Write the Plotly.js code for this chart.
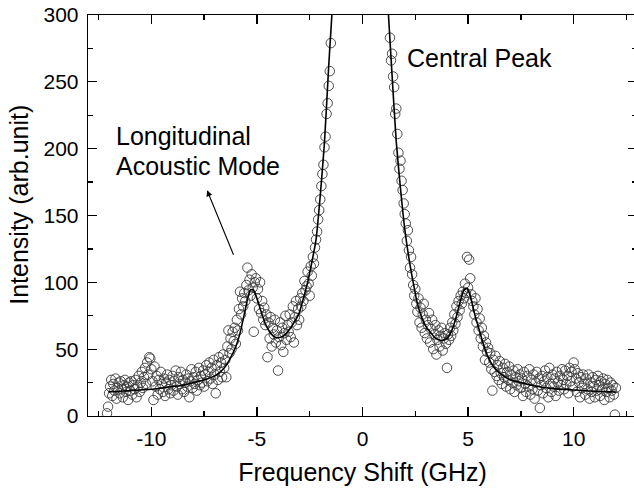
<!DOCTYPE html>
<html>
<head>
<meta charset="utf-8">
<script src="https://cdn.plot.ly/plotly-3.0.1.min.js"></script>
<style>
html,body{margin:0;padding:0;overflow:hidden;background:#fff;}
#chart{width:640px;height:495px;}
</style>
</head>
<body>
<div id="chart"></div>
<script>
// Measured spectrum, anti-Stokes side (negative shift)
const dataLeftX = [-12.10,-12.05,-12.00,-11.95,-11.90,-11.85,-11.80,-11.75,-11.70,-11.65,-11.60,-11.55,-11.50,-11.45,-11.40,-11.35,-11.30,-11.25,-11.20,-11.15,-11.10,-11.05,-11.00,-10.95,-10.90,-10.85,-10.80,
-10.75,-10.70,-10.65,-10.60,-10.55,-10.50,-10.45,-10.40,-10.35,-10.30,-10.25,-10.20,-10.15,-10.10,-10.05,-10.00,-9.95,-9.90,-9.85,-9.80,-9.75,-9.70,-9.65,-9.60,-9.55,-9.50,
-9.45,-9.40,-9.35,-9.30,-9.25,-9.20,-9.15,-9.10,-9.05,-9.00,-8.95,-8.90,-8.85,-8.80,-8.75,-8.70,-8.65,-8.60,-8.55,-8.50,-8.45,-8.40,-8.35,-8.30,-8.25,-8.20,-8.15,-8.10,-8.05,-8.00,-7.95,-7.90,-7.85,-7.80,-7.75,-7.70,-7.65,-7.60,-7.55,
-7.50,-7.45,-7.40,-7.35,-7.30,-7.25,-7.20,-7.15,-7.10,-7.05,-7.00,-6.95,-6.90,-6.85,-6.80,-6.75,-6.70,-6.65,-6.60,-6.55,
-6.50,-6.45,-6.40,-6.35,-6.30,-6.25,-6.20,-6.15,-6.10,-6.05,-6.00,-5.95,-5.90,-5.85,-5.80,-5.75,-5.70,-5.65,-5.60,-5.55,
-5.50,-5.45,-5.40,-5.35,-5.30,-5.25,-5.20,-5.15,-5.10,-5.05,-5.00,-4.95,-4.90,-4.85,-4.80,-4.75,-4.70,-4.65,-4.60,-4.55,
-4.50,-4.45,-4.40,-4.35,-4.30,-4.25,-4.20,-4.15,-4.10,-4.05,-4.00,-3.95,-3.90,-3.85,-3.80,-3.75,-3.70,-3.65,-3.60,-3.55,
-3.50,-3.45,-3.40,-3.35,-3.30,-3.25,-3.20,-3.15,-3.10,-3.05,-3.00,-2.95,
-2.90,-2.85,-2.80,-2.75,-2.70,-2.65,-2.60,-2.55,-2.50,-2.45,-2.40,-2.35,-2.30,-2.25,-2.20,-2.15,-2.10,-2.05,-2.00,-1.95,-1.90,-1.85,-1.80,-1.75,-1.70,-1.65,-1.60,-1.55,-1.50];
const dataLeftY = [2,7,17,22,27,15,24,19,28,13,21,25,17,26,20,14,23,27,18,22,12,25,19,26,16,23,20,
27,14,22,30,18,25,33,21,29,36,24,40,31,44,43,35,26,12,37,22,30,16,27,20,33,24,
18,28,15,25,31,20,27,17,23,30,19,26,34,22,16,29,24,33,20,27,18,25,31,22,28,14,26,35,21,29,24,33,19,27,36,23,30,25,34,
22,31,38,26,33,40,28,36,24,42,31,17,38,27,44,33,40,29,46,36,
42,29,52,64,47,58,50,63,56,66,54,72,64,80,93,76,88,82,92,86,
98,111,94,102,90,106,96,63,100,103,88,95,80,100,77,86,72,81,68,76,
44,70,58,74,52,66,61,72,55,64,34,59,70,53,66,48,62,75,57,68,
63,76,59,70,82,55,74,86,68,80,72,88,
82,92,86,101,94,97,108,99,90,112,105,119,114,126,132,138,147,154,162,172,181,188,201,209,226,234,247,258,279];

// Measured spectrum, Stokes side (positive shift)
const dataRightX = [1.30,1.35,1.40,1.45,1.50,1.55,1.60,1.65,1.70,1.75,1.80,1.85,1.90,1.95,2.00,2.05,2.10,2.15,2.20,2.25,2.30,2.35,2.40,2.45,2.50,2.55,
2.60,2.65,2.70,2.75,2.80,2.85,2.90,2.95,3.00,3.05,3.10,3.15,3.20,3.25,3.30,3.35,3.40,3.45,3.50,3.55,3.60,3.65,3.70,3.75,3.80,3.85,
3.90,3.95,4.00,4.05,4.10,4.15,4.20,4.25,4.30,4.35,4.40,4.45,4.50,4.55,4.60,4.65,4.70,4.75,4.80,4.85,4.90,4.95,
5.00,5.05,5.10,5.15,5.20,5.25,5.30,5.35,5.40,5.45,5.50,5.55,5.60,5.65,5.70,5.75,5.80,5.85,5.90,5.95,
6.00,6.05,6.10,6.15,6.20,6.25,6.30,6.35,6.40,6.45,6.50,6.55,6.60,6.65,6.70,6.75,6.80,6.85,6.90,6.95,7.00,7.05,7.10,7.15,7.20,7.25,7.30,7.35,7.40,7.45,
7.50,7.55,7.60,7.65,7.70,7.75,7.80,7.85,7.90,7.95,8.00,8.05,8.10,8.15,8.20,8.25,8.30,8.35,8.40,8.45,8.50,8.55,8.60,8.65,8.70,8.75,8.80,8.85,8.90,8.95,9.00,9.05,9.10,9.15,9.20,9.25,9.30,9.35,9.40,9.45,
9.50,9.55,9.60,9.65,9.70,9.75,9.80,9.85,9.90,9.95,10.00,10.05,10.10,10.15,10.20,10.25,10.30,10.35,10.40,10.45,
10.50,10.55,10.60,10.65,10.70,10.75,10.80,10.85,10.90,10.95,11.00,11.05,11.10,11.15,11.20,11.25,11.30,11.35,11.40,11.45,11.50,11.55,11.60,11.65,11.70,11.75,11.80,11.85,11.90,11.95,12.00];
const dataRightY = [283,266,271,254,246,226,230,211,197,185,191,176,169,159,151,144,131,139,124,111,119,106,98,90,95,84,
78,88,70,81,66,76,84,62,72,58,68,77,55,65,72,50,61,68,46,57,64,52,60,66,49,58,
62,54,36,61,57,66,60,70,64,76,69,82,74,86,79,90,84,93,88,99,92,119,
96,117,103,91,86,82,76,88,70,80,64,73,58,66,52,60,42,55,48,51,
40,47,35,19,42,33,45,30,38,27,41,32,24,36,29,39,22,33,27,37,20,31,25,34,18,29,23,35,26,31,
21,28,15,33,24,18,30,22,35,16,27,20,31,13,25,33,19,28,6,23,30,17,26,34,21,29,14,36,24,18,31,22,28,15,33,25,19,30,23,35,
27,20,34,24,30,17,36,26,33,22,40,35,28,18,32,25,14,29,21,31,
24,16,28,20,31,13,25,18,29,22,14,27,19,30,23,15,26,20,28,12,24,18,27,21,14,25,19,23,16,1,21];

// Lorentzian fit
const fitLeftX = [-12.05,-11.5,-11,-10.5,-10,-9.5,-9,-8.5,-8,-7.5,-7,-6.6,-6.3,-6.0,-5.8,-5.6,-5.45,-5.3,-5.15,-5.0,-4.8,-4.6,-4.4,-4.2,-4.0,-3.8,-3.6,-3.4,-3.2,-3.0,-2.8,-2.6,-2.4,-2.2,-2.0,-1.8,-1.6,-1.45];
const fitLeftY = [18,18.5,19,19.5,20,21,22,23,25,27,30,35,42,52,62,76,87,94.5,94,88,78,69,63,59.5,58.5,59.5,62,66,71,77,88,100,115,132,165,205,262,300];
const fitRightX = [1.23,1.4,1.6,1.8,2.0,2.2,2.4,2.6,2.8,3.0,3.2,3.4,3.6,3.8,4.0,4.2,4.4,4.6,4.8,4.95,5.1,5.3,5.5,5.7,5.9,6.2,6.5,7.0,7.5,8.0,8.5,9.0,9.5,10,10.5,11,11.5,12];
const fitRightY = [300,255,205,170,140,118,100,84,74,67,63,59,57,56.5,58,63,72,84,94,95.5,90,77,66,55,46,37,32,27,25,23,21.5,20.5,20,19.5,19,18.5,18.2,18];

const xTickVals = [-10,-5,0,5,10];
const yTickVals = [0,50,100,150,200,250,300];

const FONT = 'Liberation Sans, Arial, Helvetica, sans-serif';
const markerStyle = {symbol:'circle-open', size:9.5, color:'#3a3a3a', line:{width:0.9}};
const lineStyle = {color:'#000', width:1.6, shape:'spline', smoothing:0.6};

const traces = [
  {x:dataLeftX, y:dataLeftY, mode:'markers', type:'scatter', marker:markerStyle, hoverinfo:'skip'},
  {x:dataRightX, y:dataRightY, mode:'markers', type:'scatter', marker:markerStyle, hoverinfo:'skip'},
  {x:fitLeftX, y:fitLeftY, mode:'lines', type:'scatter', line:lineStyle, hoverinfo:'skip'},
  {x:fitRightX, y:fitRightY, mode:'lines', type:'scatter', line:lineStyle, hoverinfo:'skip'}
];

const axisCommon = {
  showline:true, linecolor:'#000', linewidth:1.3, mirror:'ticks',
  ticks:'inside', ticklen:9, tickwidth:1.3, tickcolor:'#000',
  showgrid:false, zeroline:false,
  tickfont:{family:FONT, size:21, color:'#000'}
};

const layout = {
  width:640, height:495,
  margin:{l:88, r:3, t:15, b:79},
  paper_bgcolor:'#fff', plot_bgcolor:'#fff',
  showlegend:false,
  font:{family:FONT, color:'#000'},
  xaxis:Object.assign({}, axisCommon, {
    range:[-13,13], tickvals:xTickVals, ticktext:xTickVals.map(String),
    minor:{dtick:2.5, tick0:0, ticks:'inside', ticklen:5, tickwidth:1.3, tickcolor:'#000', showgrid:false},
    ticklabelstandoff:3,
    title:{text:'Frequency Shift (GHz)', font:{family:FONT, size:25, color:'#000'}, standoff:15}
  }),
  yaxis:Object.assign({}, axisCommon, {
    range:[0,300], tickvals:yTickVals, ticktext:yTickVals.map(String),
    minor:{dtick:25, tick0:0, ticks:'inside', ticklen:5, tickwidth:1.3, tickcolor:'#000', showgrid:false},
    ticklabelstandoff:4
  }),
  annotations:[
    {xref:'paper', yref:'paper', x:-0.1248, y:0.528, text:'Intensity (arb.unit)', textangle:-90,
     showarrow:false, xanchor:'center', yanchor:'middle', font:{family:FONT, size:25, color:'#000'}},
    {xref:'x', yref:'y', x:2.0, y:268, text:'Central Peak', showarrow:false, xanchor:'left', yanchor:'middle',
     font:{family:FONT, size:25, color:'#000'}},
    {xref:'x', yref:'y', x:-11.78, y:209.5, text:'Longitudinal', showarrow:false, xanchor:'left', yanchor:'middle',
     font:{family:FONT, size:25, color:'#000'}},
    {xref:'x', yref:'y', x:-11.78, y:187, text:'Acoustic Mode', showarrow:false, xanchor:'left', yanchor:'middle',
     font:{family:FONT, size:25, color:'#000'}},
    {xref:'x', yref:'y', x:-7.36, y:168.9, axref:'x', ayref:'y', ax:-6.08, ay:119.5, text:'',
     showarrow:true, arrowhead:2, arrowsize:1.1, arrowwidth:1.1, arrowcolor:'#000'}
  ]
};

Plotly.newPlot('chart', traces, layout, {staticPlot:true, displayModeBar:false});
</script>
</body>
</html>
